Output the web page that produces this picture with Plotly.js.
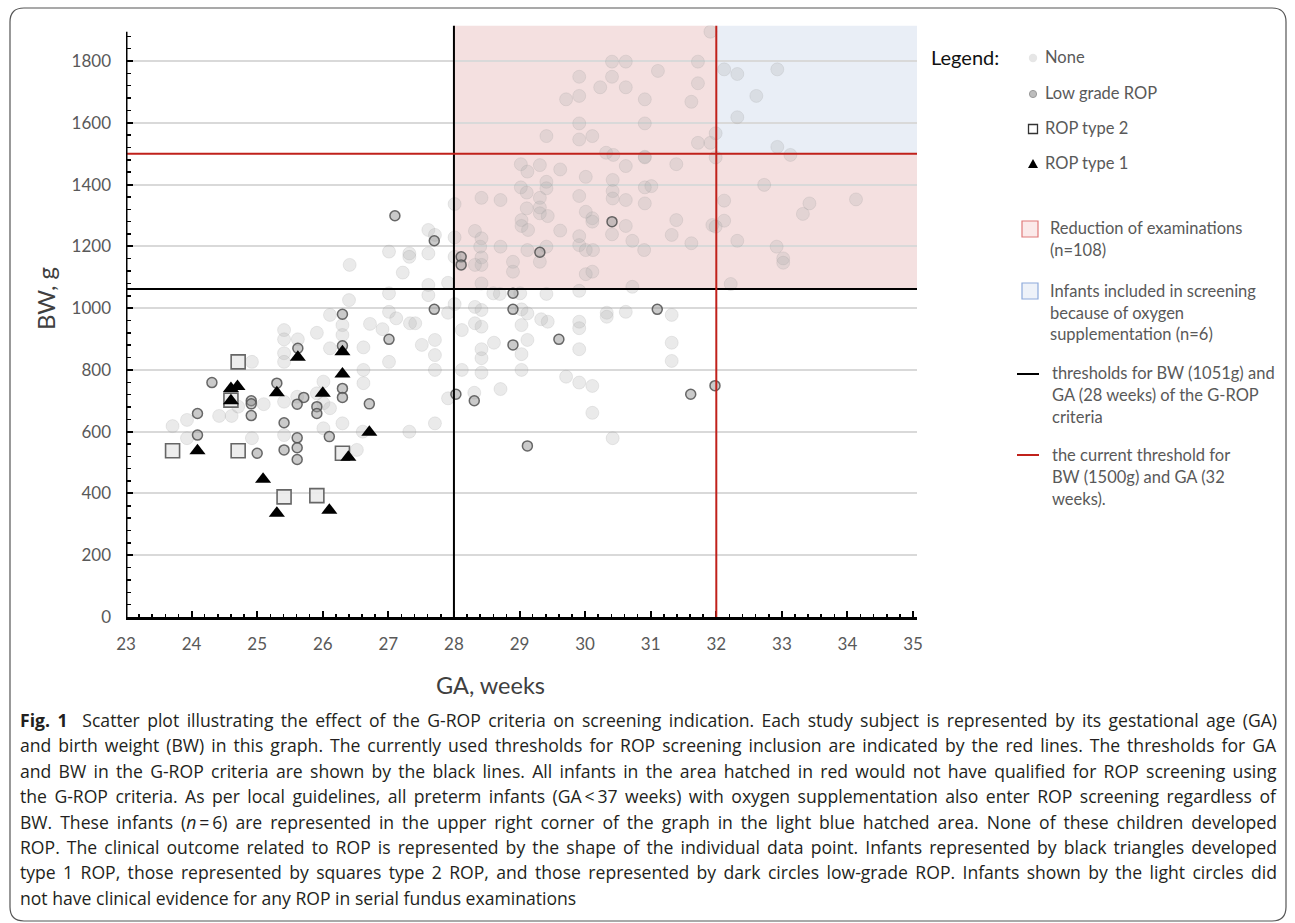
<!DOCTYPE html>
<html>
<head>
<meta charset="utf-8">
<script src="https://cdn.plot.ly/plotly-3.0.1.min.js"></script>
<style>html,body{margin:0;padding:0;background:#fff;}#chart{width:1295px;height:923px;}</style>
</head>
<body>
<div id="chart"></div>
<script>
// ---------------- DATA ----------------
// Gestational age (weeks) and birth weight (g) per outcome group
const noneGA = [26.41,27.01,27.32,27.32,27.61,27.22,27.61,27.01,27.61,26.40,27.01,27.12,27.33,27.41,26.72,26.91,26.11,26.30,25.91,25.41,25.41,25.62,26.30,26.11,26.62,27.01,25.41,25.41,24.92,26.62,26.62,27.51,27.71,27.71,27.71,26.01,25.91,25.61,25.41,25.10,26.01,26.11,24.71,24.42,24.61,23.93,23.71,23.93,24.92,25.41,26.01,26.30,26.61,26.52,27.32,27.71,27.61,27.71,
  27.91,28.01,27.91,28.32,28.42,28.32,28.42,28.12,28.60,28.70,29.01,29.41,29.91,30.72,29.03,29.12,29.33,29.43,29.91,29.91,30.33,30.33,30.62,31.32,31.32,31.32,29.03,28.61,29.12,29.91,29.03,28.42,28.42,28.12,28.42,29.03,29.71,29.91,30.11,28.71,30.11,28.31,27.91,30.42,
  28.01,28.42,28.71,29.02,29.12,29.31,29.62,29.41,29.41,29.02,29.11,29.31,29.11,29.31,29.31,29.43,29.03,29.03,29.13,29.62,29.91,30.01,30.42,30.42,30.42,30.62,30.62,30.91,30.91,31.01,30.91,31.39,30.01,30.11,30.11,30.62,30.41,30.72,31.39,31.32,31.62,31.94,29.91,29.91,30.01,30.12,30.01,30.11,30.90,28.90,28.90,29.12,29.31,29.41,28.71,28.42,28.32,28.40,28.42,28.42,28.32,28.01,28.01,28.42,
  31.91,30.41,30.62,31.72,29.91,30.41,31.11,30.23,30.62,31.72,29.71,29.91,30.91,31.62,29.91,30.91,29.41,29.91,30.11,31.72,31.91,31.99,30.32,30.43,30.91,31.99,
  32.12,32.32,32.93,32.61,32.32,32.93,33.13,
  32.73,33.42,33.32,34.13,32.12,32.12,31.99,32.32,32.92,33.02,33.02,32.22];
const noneBW = [1140,1183,1177,1166,1177,1115,1075,1048,1042,1026,988,967,951,951,949,932,978,945,920,929,899,899,913,870,873,826,854,826,826,800,757,881,897,848,800,762,724,713,697,689,692,676,681,651,651,638,618,579,579,589,611,627,600,541,600,627,1253,1237,
  1082,1013,985,1004,994,951,940,929,1048,1046,1048,1046,1056,1069,996,983,964,956,956,935,985,972,988,978,888,829,945,888,897,867,851,867,838,800,791,800,778,759,748,738,661,726,708,579,
  1337,1357,1350,1466,1442,1463,1449,1409,1388,1391,1374,1357,1323,1326,1307,1298,1285,1266,1253,1251,1363,1425,1415,1379,1355,1460,1350,1490,1391,1395,1339,1466,1312,1291,1280,1266,1239,1218,1285,1237,1210,1269,1233,1204,1188,1188,1110,1118,1188,1150,1118,1188,1150,1199,1199,1226,1250,1199,1164,1140,1140,1229,1166,1080,
  1895,1798,1798,1798,1749,1749,1768,1715,1715,1728,1676,1687,1676,1668,1598,1598,1557,1546,1557,1535,1535,1566,1503,1496,1488,1488,
  1773,1758,1773,1687,1618,1522,1496,
  1399,1339,1305,1352,1348,1283,1264,1218,1199,1161,1147,1078];

const lowGA = [26.30,25.62,26.30,24.31,25.30,26.30,26.30,25.71,24.91,24.91,25.61,25.91,25.91,24.91,26.71,24.09,24.09,25.41,26.10,25.61,25.61,25.61,25.41,25.00,
  27.10,27.70,28.11,28.11,29.31,30.41,28.90,28.90,27.70,31.10,27.01,28.90,29.60,28.03,28.31,31.61,31.98,29.12];
const lowBW = [980,870,878,759,757,740,711,711,700,690,689,681,659,652,690,659,589,629,584,580,548,510,541,530,
  1299,1218,1166,1140,1181,1280,1048,996,996,996,899,881,899,721,700,721,749,554];

const type2GA = [24.71,23.71,24.71,24.60,26.30,25.41,25.91];
const type2BW = [826,538,538,702,530,389,393];

const type1GA = [24.09,24.60,24.70,24.60,25.30,25.62,26.00,26.30,26.30,26.71,26.39,25.09,25.30,26.10];
const type1BW = [538,740,746,700,726,841,724,859,787,598,517,446,336,346];

// thresholds (as drawn)
const gaGROP = 28, bwGROP = 1062;
const gaCurrent = 32, bwCurrent = 1500;

const xTicks = [23,24,25,26,27,28,29,30,31,32,33,34,35];
const yTicks = [0,200,400,600,800,1000,1200,1400,1600,1800];

const legendItems = ["None", "Low grade ROP", "ROP type 2", "ROP type 1"];
const legendBoxText = [
  ["Reduction of examinations", "(n=108)"],
  ["Infants included in screening", "because of oxygen", "supplementation (n=6)"],
  ["thresholds for BW (1051g) and", "GA (28 weeks) of the G-ROP", "criteria"],
  ["the current threshold for", "BW (1500g) and GA (32", "weeks)."]
];
const captionLines = [
  "<b>Fig. 1</b>\u00a0\u00a0Scatter plot illustrating the effect of the G-ROP criteria on screening indication. Each study subject is represented by its gestational age (GA)",
  "and birth weight (BW) in this graph. The currently used thresholds for ROP screening inclusion are indicated by the red lines. The thresholds for GA",
  "and BW in the G-ROP criteria are shown by the black lines. All infants in the area hatched in red would not have qualified for ROP screening using",
  "the G-ROP criteria. As per local guidelines, all preterm infants (GA\u2009&lt;\u200937 weeks) with oxygen supplementation also enter ROP screening regardless of",
  "BW. These infants (<i>n</i>\u2009=\u20096) are represented in the upper right corner of the graph in the light blue hatched area. None of these children developed",
  "ROP. The clinical outcome related to ROP is represented by the shape of the individual data point. Infants represented by black triangles developed",
  "type 1 ROP, those represented by squares type 2 ROP, and those represented by dark circles low-grade ROP. Infants shown by the light circles did",
  "not have clinical evidence for any ROP in serial fundus examinations"
];

// ---------------- LAYOUT ----------------
const W = 1295, H = 923;
const px = p => p / W;
const py = p => 1 - p / H;
const X0 = 23, X1 = 35.06, Y0 = 0, Y1 = 1915;
const FONT = "Lato, 'Open Sans', sans-serif";
const CAPFONT = "'Open Sans', Lato, sans-serif";

const traces = [
  {x: noneGA, y: noneBW, type: 'scatter', mode: 'markers', name: 'None',
   marker: {symbol: 'circle', size: 13, color: 'rgba(175,175,175,0.26)', line: {color: 'rgba(150,150,150,0.18)', width: 1}}},
  {x: lowGA, y: lowBW, type: 'scatter', mode: 'markers', name: 'Low grade ROP',
   marker: {symbol: 'circle', size: 10, color: 'rgba(150,150,150,0.5)', line: {color: 'rgba(80,80,80,0.85)', width: 1.5}}},
  {x: type2GA, y: type2BW, type: 'scatter', mode: 'markers', name: 'ROP type 2',
   marker: {symbol: 'square', size: 14, color: 'rgba(235,235,235,0.9)', line: {color: '#666', width: 1.6}}},
  {x: type1GA, y: type1BW, type: 'scatter', mode: 'markers', name: 'ROP type 1',
   marker: {symbol: 'triangle-up', size: 14, color: '#000', line: {width: 0}}}
];

const shapes = [
  // shaded areas
  {type: 'rect', xref: 'x', yref: 'y', x0: gaGROP, x1: gaCurrent, y0: bwGROP, y1: Y1, fillcolor: '#f4e0e0', line: {width: 0}, layer: 'below'},
  {type: 'rect', xref: 'x', yref: 'y', x0: gaCurrent, x1: X1, y0: bwGROP, y1: bwCurrent, fillcolor: '#f4e0e0', line: {width: 0}, layer: 'below'},
  {type: 'rect', xref: 'x', yref: 'y', x0: gaCurrent, x1: X1, y0: bwCurrent, y1: Y1, fillcolor: '#e9eef6', line: {width: 0}, layer: 'below'},
  // threshold lines
  {type: 'line', xref: 'x', yref: 'y', x0: gaGROP, x1: gaGROP, y0: 0, y1: Y1, line: {color: '#000', width: 2}},
  {type: 'line', xref: 'x', yref: 'y', x0: X0, x1: X1, y0: bwGROP, y1: bwGROP, line: {color: '#000', width: 2}},
  {type: 'line', xref: 'x', yref: 'y', x0: gaCurrent, x1: gaCurrent, y0: 0, y1: Y1, line: {color: '#c0211b', width: 2}},
  {type: 'line', xref: 'x', yref: 'y', x0: X0, x1: X1, y0: bwCurrent, y1: bwCurrent, line: {color: '#c0211b', width: 2}},
  // y axis line
  {type: 'line', xref: 'x', yref: 'y', x0: X0, x1: X0, y0: 0, y1: 1895, line: {color: '#000', width: 3}},
];

// rounded frame
(function(){
  const x0 = 10, x1 = 1286, y0 = 8, y1 = 921, r = 14;
  const P = (a, b) => px(a).toFixed(5) + ',' + py(b).toFixed(5);
  const d = 'M' + P(x0 + r, y0) + ' L' + P(x1 - r, y0) + ' Q' + P(x1, y0) + ' ' + P(x1, y0 + r) +
    ' L' + P(x1, y1 - r) + ' Q' + P(x1, y1) + ' ' + P(x1 - r, y1) +
    ' L' + P(x0 + r, y1) + ' Q' + P(x0, y1) + ' ' + P(x0, y1 - r) +
    ' L' + P(x0, y0 + r) + ' Q' + P(x0, y0) + ' ' + P(x0 + r, y0) + ' Z';
  shapes.push({type: 'path', xref: 'paper', yref: 'paper', path: d, line: {color: '#555', width: 1.2}, fillcolor: 'rgba(0,0,0,0)', layer: 'below'});
})();

// legend symbols (paper coordinates)
const LX = 1033;
const legRows = [57, 93, 128, 163];
function circ(cx, cy, r, fill, lc, lw) {
  return {type: 'circle', xref: 'paper', yref: 'paper', x0: px(cx - r), x1: px(cx + r), y0: py(cy + r), y1: py(cy - r), fillcolor: fill, line: {color: lc, width: lw}};
}
shapes.push(circ(LX, legRows[0] + 1, 4.2, '#e6e6e6', 'rgba(0,0,0,0)', 0));
shapes.push(circ(LX, legRows[1] + 1, 3.6, '#bdbdbd', '#9a9a9a', 1));
shapes.push({type: 'rect', xref: 'paper', yref: 'paper', x0: px(LX - 4.5), x1: px(LX + 4.5), y0: py(legRows[2] + 5.5), y1: py(legRows[2] - 3.5), fillcolor: '#fff', line: {color: '#333', width: 1.3}});
shapes.push({type: 'path', xref: 'paper', yref: 'paper',
  path: 'M' + px(LX - 5) + ',' + py(legRows[3] + 5) + ' L' + px(LX + 5) + ',' + py(legRows[3] + 5) + ' L' + px(LX) + ',' + py(legRows[3] - 4) + ' Z',
  fillcolor: '#000', line: {width: 0}});
// legend boxes and lines
shapes.push({type: 'rect', xref: 'paper', yref: 'paper', x0: px(1022), x1: px(1038), y0: py(237), y1: py(221), fillcolor: '#fbeaea', line: {color: '#e07a7a', width: 1.2}});
shapes.push({type: 'rect', xref: 'paper', yref: 'paper', x0: px(1022), x1: px(1038), y0: py(299), y1: py(283), fillcolor: '#eef2f9', line: {color: '#8eaadb', width: 1.2}});
shapes.push({type: 'line', xref: 'paper', yref: 'paper', x0: px(1017), x1: px(1039), y0: py(374), y1: py(374), line: {color: '#000', width: 2}});
shapes.push({type: 'line', xref: 'paper', yref: 'paper', x0: px(1017), x1: px(1039), y0: py(455), y1: py(455), line: {color: '#c0211b', width: 2}});

const annotations = [];
function ann(text, x, y, size, color, xanchor, extra, family) {
  annotations.push(Object.assign({text: text, xref: 'paper', yref: 'paper', x: px(x), y: py(y), xanchor: xanchor || 'left', yanchor: 'middle',
    align: 'left', showarrow: false, font: {family: family || FONT, size: size, color: color}}, extra || {}));
}
// axis titles
ann('BW, g', 45, 299, 24, '#404040', 'center', {textangle: -90, align: 'center'});
ann('GA, weeks', 490, 685, 23.5, '#404040', 'center', {align: 'center'});
// legend text
ann('Legend:', 929, 57, 20, '#111');
legendItems.forEach((t, i) => ann(t, 1043, legRows[i], 16.5, '#595959'));
const boxRows = [[228, 250], [291, 313, 334], [373, 395, 417], [455, 477, 499]];
legendBoxText.forEach((lines, i) => lines.forEach((t, j) => ann(t, i < 2 ? 1048 : 1050, boxRows[i][j], 16.5, '#595959')));
// caption
const CAP_START = annotations.length;
captionLines.forEach((t, i) => ann(t, 18, 720 + i * 25.4, 17.6, '#231f20', 'left', null, CAPFONT));

const layout = {
  width: W, height: H,
  margin: {l: 0, r: 0, t: 0, b: 0},
  paper_bgcolor: '#fff', plot_bgcolor: 'rgba(0,0,0,0)',
  showlegend: false,
  xaxis: {
    domain: [px(126), px(917)], range: [X0, X1],
    tickmode: 'array', tickvals: xTicks, ticktext: xTicks.map(String),
    showgrid: false, zeroline: false,
    showline: true, linecolor: '#000', linewidth: 2.5,
    ticks: 'inside', ticklen: 6, tickwidth: 2, tickcolor: '#000',
    minor: {dtick: 0.2, tick0: 23, ticks: 'inside', ticklen: 3.5, tickwidth: 1.5, tickcolor: '#000', showgrid: false},
    tickfont: {family: FONT, size: 17, color: '#595959'},
    ticklabelstandoff: 10, fixedrange: true
  },
  yaxis: {
    domain: [1 - 617 / H, 1 - 25.5 / H], range: [Y0, Y1],
    tickmode: 'array', tickvals: yTicks, ticktext: yTicks.map(String),
    showgrid: true, gridcolor: '#d9d9d9', gridwidth: 2, zeroline: false,
    showline: false,
    ticks: 'inside', ticklen: 7, tickwidth: 2, tickcolor: '#000',
    minor: {dtick: 40, tick0: 0, ticks: 'inside', ticklen: 5, tickwidth: 1.5, tickcolor: '#000', showgrid: false},
    tickfont: {family: FONT, size: 17, color: '#595959'},
    ticklabelstandoff: 14, fixedrange: true
  },
  shapes: shapes,
  annotations: annotations
};

Plotly.newPlot('chart', traces, layout, {staticPlot: true, displayModeBar: false}).then(function(gd) {
  // justify caption lines (all but the last) to the text block width, like the printed caption
  const TARGET = 1275 - 18;
  const groups = gd.querySelectorAll('.annotation');
  for (let i = CAP_START; i < CAP_START + captionLines.length - 1; i++) {
    const g = groups[i];
    if (!g) continue;
    const t = g.querySelector('text.annotation-text');
    if (!t) continue;
    const w = t.getBBox().width;
    const spaces = (t.textContent.match(/[ \u00a0]/g) || []).length;
    if (spaces > 0 && w < TARGET) {
      t.style.wordSpacing = ((TARGET - w) / spaces).toFixed(3) + 'px';
    }
  }
});
</script>
</body>
</html>
